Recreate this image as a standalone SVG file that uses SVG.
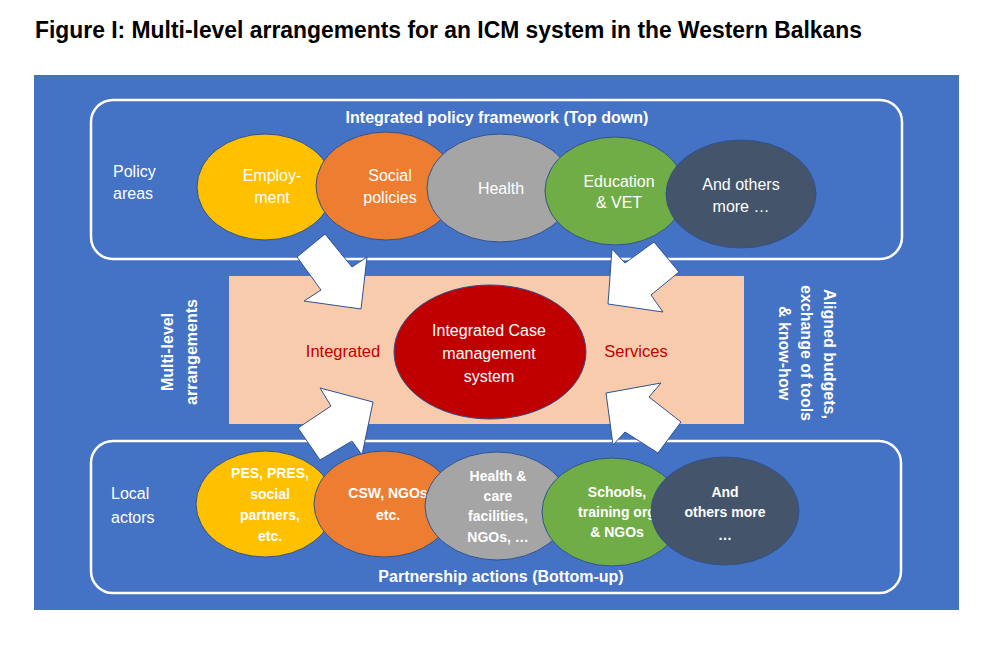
<svg xmlns="http://www.w3.org/2000/svg" width="996" height="658" viewBox="0 0 996 658">
<style>
text{font-family:"Liberation Sans",Arial,sans-serif;}
.w{fill:#fff;font-size:16px;text-anchor:middle;}
.wb{fill:#fff;font-size:16px;font-weight:bold;text-anchor:middle;}
.wl{fill:#fff;font-size:16px;}
.sb{fill:#fff;font-size:14px;font-weight:bold;text-anchor:middle;}
.r{fill:#C00000;font-size:16.5px;text-anchor:middle;}
.panel{fill:none;stroke:#fff;stroke-width:2.5;}
.el{stroke:#2F528F;stroke-width:1;}
.arrow{fill:#fff;stroke:#2F528F;stroke-width:1;stroke-linejoin:miter;}
</style>
<rect x="0" y="0" width="996" height="658" fill="#fff"/>
<text x="35" y="38" font-size="23" font-weight="bold" fill="#000" textLength="827" lengthAdjust="spacingAndGlyphs">Figure I: Multi-level arrangements for an ICM system in the Western Balkans</text>
<rect id="background" x="34" y="75" width="925" height="535" fill="#4472C4"/>

<g id="top-panel">
<rect class="panel" x="91" y="100" width="811" height="159" rx="22"/>
<text class="wb" x="497" y="123">Integrated policy framework (Top down)</text>
<text class="wl" x="113" y="177">Policy</text>
<text class="wl" x="113" y="199">areas</text>
</g>

<g id="bottom-panel">
<rect class="panel" x="91" y="441" width="810" height="152" rx="22"/>
<text class="wb" x="501" y="582">Partnership actions (Bottom-up)</text>
<text class="wl" x="111" y="499">Local</text>
<text class="wl" x="111" y="523">actors</text>
</g>

<g id="center">
<rect x="229" y="276" width="515" height="148" fill="#F8CBAD"/>
<text class="r" x="343" y="357">Integrated</text>
<text class="r" x="636" y="357">Services</text>
</g>

<g id="icm">
<ellipse class="el" cx="490" cy="352" rx="96" ry="67" fill="#C00000"/>
<text class="w" x="489" y="336">Integrated Case</text>
<text class="w" x="489" y="359">management</text>
<text class="w" x="489" y="382">system</text>
</g>

<g id="label-left">
<text class="wb" transform="translate(173,352) rotate(-90)" x="0" y="0">Multi-level</text>
<text class="wb" transform="translate(197,352) rotate(-90)" x="0" y="0">arrangements</text>
</g>
<g id="label-right">
<text class="wb" transform="translate(824,354) rotate(90)" x="0" y="0">Aligned budgets,</text>
<text class="wb" transform="translate(801,353) rotate(90)" x="0" y="0">exchange of tools</text>
<text class="wb" transform="translate(779,353) rotate(90)" x="0" y="0">&amp; know-how</text>
</g>

<g id="connectors">
<polygon class="arrow" points="297,257 325,234 352,267 367,257 361,309 304,301 321,290"/>
<polygon class="arrow" points="679,272 654,242 625,263 612,249 608,304 663,312 651,295"/>
<polygon class="arrow" points="298,428 320,460 352,441 362,455 373,402 320,388 331,406"/>
<polygon class="arrow" points="606,393 661,383 649,397 681,422 658,453 625,432 613,445"/>
</g>

<g id="employment">
<ellipse class="el" cx="265" cy="187" rx="68" ry="53" fill="#FFC000"/>
<text class="w" x="272" y="181">Employ-</text>
<text class="w" x="272" y="203">ment</text>
</g>
<g id="social-policies">
<ellipse class="el" cx="386" cy="186" rx="70" ry="54" fill="#ED7D31"/>
<text class="w" x="390" y="181">Social</text>
<text class="w" x="390" y="203">policies</text>
</g>
<g id="health">
<ellipse class="el" cx="500" cy="188" rx="73" ry="54" fill="#A5A5A5"/>
<text class="w" x="501" y="194">Health</text>
</g>
<g id="education">
<ellipse class="el" cx="615" cy="191" rx="70" ry="54" fill="#70AD47"/>
<text class="w" x="619" y="187">Education</text>
<text class="w" x="619" y="208">&amp; VET</text>
</g>
<g id="others-top">
<ellipse class="el" cx="741" cy="194" rx="75" ry="54" fill="#44546A"/>
<text class="w" x="741" y="190">And others</text>
<text class="w" x="741" y="212">more …</text>
</g>

<g id="pes">
<ellipse class="el" cx="265" cy="504" rx="69" ry="53" fill="#FFC000"/>
<text class="sb" x="270" y="478">PES, PRES,</text>
<text class="sb" x="270" y="499">social</text>
<text class="sb" x="270" y="520">partners,</text>
<text class="sb" x="270" y="541">etc.</text>
</g>
<g id="csw">
<ellipse class="el" cx="384" cy="504" rx="70" ry="53" fill="#ED7D31"/>
<text class="sb" x="388" y="498">CSW, NGOs</text>
<text class="sb" x="388" y="520">etc.</text>
</g>
<g id="health-care">
<ellipse class="el" cx="497" cy="506" rx="72" ry="54" fill="#A5A5A5"/>
<text class="sb" x="498" y="481">Health &amp;</text>
<text class="sb" x="498" y="501">care</text>
<text class="sb" x="498" y="521">facilities,</text>
<text class="sb" x="498" y="542">NGOs, …</text>
</g>
<g id="schools">
<ellipse class="el" cx="612" cy="512" rx="70" ry="54" fill="#70AD47"/>
<text class="sb" x="617" y="497">Schools,</text>
<text class="sb" x="617" y="517">training org</text>
<text class="sb" x="617" y="537">&amp; NGOs</text>
</g>
<g id="others-bottom">
<ellipse class="el" cx="725" cy="511" rx="74" ry="54" fill="#44546A"/>
<text class="sb" x="725" y="497">And</text>
<text class="sb" x="725" y="517">others more</text>
<text class="sb" x="725" y="540">…</text>
</g>
</svg>
